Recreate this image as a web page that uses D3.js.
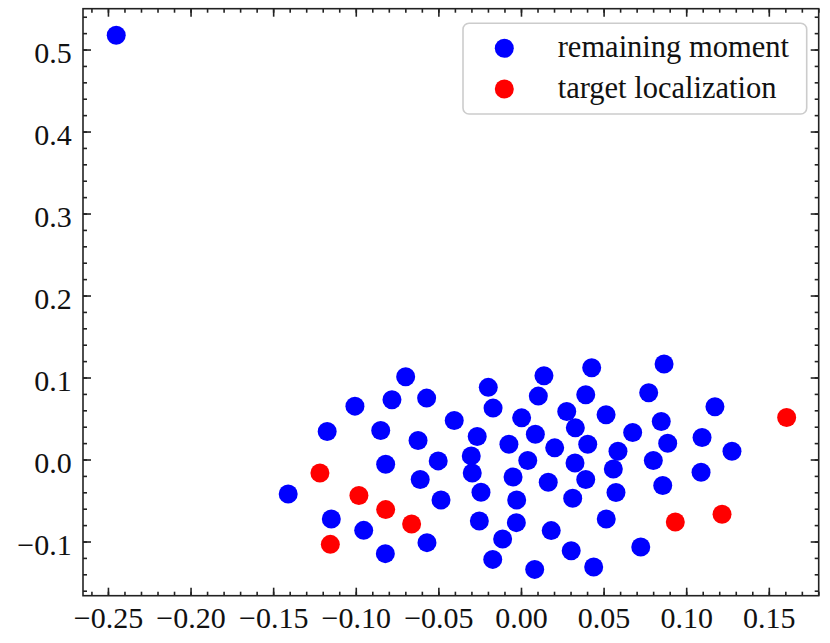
<!DOCTYPE html>
<html lang="en">
<head>
    <meta charset="UTF-8">
    <title>Remaining moment vs target localization</title>
    <script src="https://d3js.org/d3.v7.min.js"></script>
    <style>
        body {
            margin: 0;
            background: #fff;
            font-family: "Liberation Serif", "DejaVu Serif", serif;
        }
        .tick-label {
            font-family: "Liberation Serif", "DejaVu Serif", serif;
            font-size: 30px;
            fill: #111;
        }
        .legend-text {
            font-family: "Liberation Serif", "DejaVu Serif", serif;
            font-size: 30.5px;
            fill: #111;
        }
    </style>
</head>
<body>
    <div id="chart"></div>
    <script>
        // values
        const blueX = [-0.245, -0.0698, -0.1005, -0.0781, -0.0571, -0.1173, -0.0849, -0.0404, -0.0623,
            -0.0198, -0.0169, -0.0265, -0.0301, -0.0295, -0.0501, -0.0819, -0.0610, -0.0484, -0.0242,
            -0.0252, -0.0111, -0.0171, 0.0083, 0.0004, -0.0073, 0.0087, 0.0041, -0.0048, -0.0026,
            -0.0028, -0.1409, -0.1148, -0.0952, -0.0821, -0.0569,
            0.0139, 0.0428, 0.0866, 0.0105, 0.0392, 0.0773, 0.1174, 0.0277, 0.0515, 0.0849,
            0.0329, 0.0676, 0.0204, 0.0404, 0.0587, 0.0888, 0.1096, 0.1277, 0.0327, 0.0559,
            0.0801, 0.1090, 0.0165, 0.0392, 0.0575, 0.0858, 0.0313, 0.0516, 0.0183, 0.0304,
            0.0725, 0.0440];
        const blueY = [0.5175, 0.1009, 0.0651, 0.0728, 0.0749, 0.0342, 0.0354, 0.0476, 0.0232,
            0.0880, 0.0627, 0.0281, 0.0044, -0.0164, -0.0017, -0.0057, -0.0244, -0.0494, -0.0400,
            -0.0750, -0.0970, -0.1218, -0.1340, 0.0508, 0.0187, 0.0309, -0.0012, -0.0213, -0.0494,
            -0.0770, -0.0420, -0.0726, -0.0864, -0.1148, -0.1014,
            0.1021, 0.1119, 0.1164, 0.0773, 0.0789, 0.0814, 0.0643, 0.0586, 0.0545, 0.0464,
            0.0386, 0.0330, 0.0142, 0.0187, 0.0101, 0.0199, 0.0269, 0.0101, -0.0042, -0.0115,
            -0.0012, -0.0155, -0.0277, -0.0244, -0.0403, -0.0318, -0.0473, -0.0726, -0.0867, -0.1112,
            -0.1068, -0.1312];
        const redX = [-0.1217, -0.0981, -0.0819, -0.0662, -0.1154, 0.1608, 0.0934, 0.1217];
        const redY = [-0.0164, -0.0440, -0.0611, -0.0787, -0.1035, 0.0513, -0.0762, -0.0668];

        const seriesNames = ["remaining moment", "target localization"];
        const seriesColors = ["#0000ff", "#ff0000"];

        const xTicks = [-0.25, -0.20, -0.15, -0.10, -0.05, 0.00, 0.05, 0.10, 0.15];
        const xTickLabels = ["\u22120.25", "\u22120.20", "\u22120.15", "\u22120.10", "\u22120.05", "0.00", "0.05", "0.10", "0.15"];
        const yTicks = [-0.1, 0.0, 0.1, 0.2, 0.3, 0.4, 0.5];
        const yTickLabels = ["\u22120.1", "0.0", "0.1", "0.2", "0.3", "0.4", "0.5"];
        const xDomain = [-0.2651, 0.1802];
        const yDomain = [-0.1661, 0.5498];

        const W = 830, H = 643;
        const margin = { top: 8.7, right: 11.3, bottom: 47.3, left: 83 };
        const width = W - margin.left - margin.right;
        const height = H - margin.top - margin.bottom;

        const svg = d3.select("#chart")
            .append("svg")
            .attr("width", W)
            .attr("height", H);

        const g = svg.append("g")
            .attr("transform", `translate(${margin.left},${margin.top})`);

        const x = d3.scaleLinear().domain(xDomain).range([0, width]);
        const y = d3.scaleLinear().domain(yDomain).range([height, 0]);

        // minor tick positions
        const xMinor = d3.range(-26, 19).map(i => i / 100).filter(v => v >= xDomain[0] && v <= xDomain[1]);
        const yMinor = d3.range(-8, 28).map(i => i / 50).filter(v => v >= yDomain[0] && v <= yDomain[1]);

        const major = 8, minor = 4;

        function drawAxis(axis, transform) {
            const a = g.append("g")
                .attr("transform", transform)
                .call(axis)
                .attr("font-family", null)
                .attr("font-size", null);
            a.select(".domain").remove();
            a.selectAll(".tick line").attr("stroke", "#222").attr("stroke-width", 1.6);
            return a;
        }

        // bottom + left with labels
        const xb = drawAxis(d3.axisBottom(x).tickValues(xTicks).tickSize(-major)
            .tickFormat((d, i) => xTickLabels[i]), `translate(0,${height})`);
        xb.selectAll("text")
            .attr("class", "tick-label")
            .attr("y", 32).attr("dy", 0);

        const yl = drawAxis(d3.axisLeft(y).tickValues(yTicks).tickSize(-major)
            .tickFormat((d, i) => yTickLabels[i]), "translate(0,0)");
        yl.selectAll("text")
            .attr("class", "tick-label")
            .attr("x", -11.3).attr("dy", 0).attr("y", 12.5);

        // top + right major ticks
        drawAxis(d3.axisTop(x).tickValues(xTicks).tickSize(-major).tickFormat(""), "translate(0,0)");
        drawAxis(d3.axisRight(y).tickValues(yTicks).tickSize(-major).tickFormat(""), `translate(${width},0)`);

        // minor ticks on all sides
        drawAxis(d3.axisBottom(x).tickValues(xMinor).tickSize(-minor).tickFormat(""), `translate(0,${height})`);
        drawAxis(d3.axisTop(x).tickValues(xMinor).tickSize(-minor).tickFormat(""), "translate(0,0)");
        drawAxis(d3.axisLeft(y).tickValues(yMinor).tickSize(-minor).tickFormat(""), "translate(0,0)");
        drawAxis(d3.axisRight(y).tickValues(yMinor).tickSize(-minor).tickFormat(""), `translate(${width},0)`);

        // points
        const blue = blueX.map((v, i) => ({ x: v, y: blueY[i] }));
        const red = redX.map((v, i) => ({ x: v, y: redY[i] }));

        g.append("g").selectAll("circle")
            .data(blue)
            .enter()
            .append("circle")
            .attr("cx", d => x(d.x))
            .attr("cy", d => y(d.y))
            .attr("r", 9.5)
            .attr("fill", seriesColors[0]);

        g.append("g").selectAll("circle")
            .data(red)
            .enter()
            .append("circle")
            .attr("cx", d => x(d.x))
            .attr("cy", d => y(d.y))
            .attr("r", 9.5)
            .attr("fill", seriesColors[1]);

        // frame
        g.append("rect")
            .attr("width", width)
            .attr("height", height)
            .attr("fill", "none")
            .attr("stroke", "#222")
            .attr("stroke-width", 1.6);

        // legend
        const legend = svg.append("g").attr("transform", "translate(463,23.3)");
        legend.append("rect")
            .attr("width", 343.7)
            .attr("height", 90.7)
            .attr("rx", 6)
            .attr("fill", "#fff")
            .attr("fill-opacity", 0.8)
            .attr("stroke", "#cccccc")
            .attr("stroke-width", 1.6);

        const rows = legend.selectAll(".row")
            .data(seriesNames)
            .enter()
            .append("g")
            .attr("class", "row")
            .attr("transform", (d, i) => `translate(0,${25 + i * 40.7})`);
        rows.append("circle")
            .attr("cx", 41.3)
            .attr("r", 9.5)
            .attr("fill", (d, i) => seriesColors[i]);
        rows.append("text")
            .attr("class", "legend-text")
            .attr("x", 94.7)
            .attr("y", 8.5)
            .text(d => d);
    </script>
</body>
</html>
